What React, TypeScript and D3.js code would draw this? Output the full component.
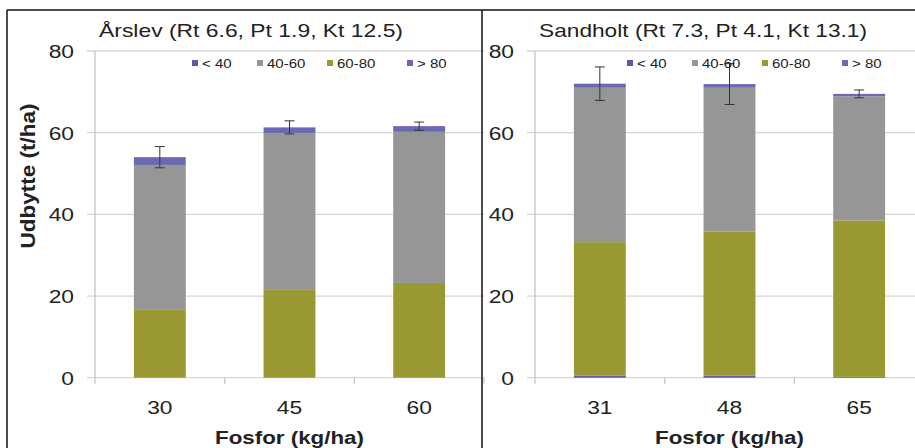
import React from 'react';
import * as d3 from 'd3';

// series, legend order as in the source
const seriesNames = ['< 40', '40-60', '60-80', '> 80'];
const seriesColors = ['#5a5aa8', '#969696', '#999933', '#6a6ab2'];
// stacking order bottom -> top
const stackOrder = ['< 40', '60-80', '40-60', '> 80'];

const yTicks = [0, 20, 40, 60, 80];

// Årslev
const titleA = 'Årslev (Rt 6.6, Pt 1.9, Kt 12.5)';
const fosforA = ['30', '45', '60'];
const lt40A = [0, 0, 0];
const s4060A = [35.5, 38.3, 37.0];
const s6080A = [16.6, 21.5, 23.2];
const gt80A = [1.9, 1.5, 1.4];
const errA = [2.6, 1.6, 1.0];

// Sandholt
const titleB = 'Sandholt (Rt 7.3, Pt 4.1, Kt 13.1)';
const fosforB = ['31', '48', '65'];
const lt40B = [0.5, 0.5, 0.2];
const s4060B = [37.8, 35.2, 30.4];
const s6080B = [32.7, 35.3, 38.3];
const gt80B = [1.0, 0.9, 0.6];
const errB = [4.1, 5.0, 0.95];

const yLabel = 'Udbytte (t/ha)';
const xLabel = 'Fosfor (kg/ha)';

const font = 'Liberation Sans, Arial, sans-serif';
const SX = 1.2; // source image is stretched horizontally

const Panel = ({ title, titleW, cats, lt40, s4060, s6080, gt80, err, left, right, legendX }) => {
  const rows = cats.map((c, i) => ({
    cat: c, '< 40': lt40[i], '40-60': s4060[i], '60-80': s6080[i], '> 80': gt80[i],
  }));
  const stacked = d3.stack().keys(stackOrder)(rows);
  const x = d3.scaleBand().domain(cats).range([left, right]).padding(0);
  const y = d3.scaleLinear().domain([0, 80]).range([377.7, 51]);
  const bw = x.bandwidth() * 0.4;
  const bx = (c) => x(c) + (x.bandwidth() - bw) / 2;
  const color = (k) => seriesColors[seriesNames.indexOf(k)];
  const legendOffsets = [0, 65, 135, 215];

  return (
    <g>
      {yTicks.map(t => (
        <g key={t}>
          <line x1={left - 8} x2={right} y1={y(t)} y2={y(t)} stroke="#d6d6d6" strokeWidth={1.3} />
          <text transform={`translate(${left - 21},${y(t) + 7}) scale(${SX},1)`} textAnchor="end"
            fontSize={19} fill="#222" fontFamily={font}>{t}</text>
        </g>
      ))}
      <line x1={left} x2={left} y1={y(80)} y2={y(0)} stroke="#c4c4c4" strokeWidth={1.3} />
      {[...cats.map(c => x(c)), right].map((p, i) => (
        <line key={i} x1={p} x2={p} y1={y(0)} y2={y(0) + 6} stroke="#c4c4c4" strokeWidth={1.3} />
      ))}
      {stacked.map(s => s.map((d, i) => (
        <rect key={s.key + i} x={bx(cats[i])} width={bw} y={y(d[1])} height={Math.max(0, y(d[0]) - y(d[1]))}
          fill={color(s.key)} />
      )))}
      {rows.map((r, i) => {
        const tot = r['< 40'] + r['40-60'] + r['60-80'] + r['> 80'];
        const cx = x(r.cat) + x.bandwidth() / 2;
        return (
          <g key={r.cat} stroke="#333" strokeWidth={1}>
            <line x1={cx} x2={cx} y1={y(tot + err[i])} y2={y(tot - err[i])} />
            <line x1={cx - 5} x2={cx + 5} y1={y(tot + err[i])} y2={y(tot + err[i])} />
            <line x1={cx - 5} x2={cx + 5} y1={y(tot - err[i])} y2={y(tot - err[i])} />
          </g>
        );
      })}
      {cats.map(c => (
        <text key={c} transform={`translate(${x(c) + x.bandwidth() / 2},${413.5}) scale(${SX},1)`}
          textAnchor="middle" fontSize={19} fill="#222" fontFamily={font}>{c}</text>
      ))}
      {seriesNames.map((n, i) => (
        <g key={n}>
          <rect x={legendX + legendOffsets[i]} y={60} width={6} height={6} fill={seriesColors[i]} />
          <text transform={`translate(${legendX + legendOffsets[i] + 10},${67.5}) scale(${SX},1)`}
            fontSize={12.5} fill="#222" fontFamily={font}>{n}</text>
        </g>
      ))}
      <text x={left + 4} y={37} fontSize={19} fill="#222" fontFamily={font}
        textLength={titleW} lengthAdjust="spacingAndGlyphs">{title}</text>
      <text x={(left + right) / 2} y={444} textAnchor="middle" fontSize={18} fontWeight="bold" fill="#222"
        fontFamily={font} textLength={149} lengthAdjust="spacingAndGlyphs">{xLabel}</text>
    </g>
  );
};

export default function App() {
  return (
    <svg width={915} height={448} style={{ position: 'fixed', left: 0, top: 0, background: '#fff' }}>
      <rect x={0} y={0} width={915} height={448} fill="#fff" />
      <Panel title={titleA} titleW={304} cats={fosforA} lt40={lt40A} s4060={s4060A} s6080={s6080A}
        gt80={gt80A} err={errA} left={95} right={484} legendX={192} />
      <Panel title={titleB} titleW={328} cats={fosforB} lt40={lt40B} s4060={s4060B} s6080={s6080B}
        gt80={gt80B} err={errB} left={535} right={924} legendX={627} />
      <text transform="translate(35,176) rotate(-90)" textAnchor="middle" fontSize={21} fontWeight="bold"
        fill="#222" fontFamily={font} textLength={145} lengthAdjust="spacingAndGlyphs">{yLabel}</text>
      <line x1={7} x2={915} y1={10} y2={10} stroke="#111" strokeWidth={1.5} />
      <line x1={7} x2={7} y1={10} y2={448} stroke="#111" strokeWidth={1.5} />
      <line x1={482} x2={482} y1={10} y2={448} stroke="#111" strokeWidth={1.5} />
    </svg>
  );
}
